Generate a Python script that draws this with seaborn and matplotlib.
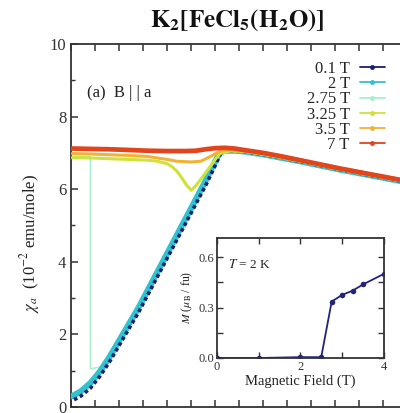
import matplotlib
matplotlib.use("Agg")
import matplotlib.pyplot as plt
from matplotlib.lines import Line2D
from matplotlib.ticker import MultipleLocator, NullFormatter, FixedLocator, FixedFormatter
import pandas as pd
import seaborn as sns

sns.set_theme(style="ticks")
plt.rcParams["font.family"] = ["Liberation Serif", "DejaVu Serif"]
plt.rcParams["mathtext.fontset"] = "stix"

# ---- susceptibility vs temperature, B || a ----
fields = ["0.1 T", "2 T", "2.75 T", "3.25 T", "3.5 T", "7 T"]
colors = ["#1c1c72", "#2fc3cf", "#a6efcf", "#cfe23a", "#f2b233", "#e2441e"]

T_01 = [0.3, 1, 2, 3, 4, 5, 6, 7, 8, 9, 10, 11, 12, 13, 14, 15, 15.5, 16, 17, 18,
        20, 22, 24, 26, 28, 30, 32, 34, 36]
chi_01 = [0.2, 0.3, 0.52, 0.85, 1.25, 1.7, 2.15, 2.6, 3.1, 3.6, 4.1, 4.6, 5.1, 5.6,
          6.1, 6.65, 6.95, 7.05, 7.06, 7.04, 6.96, 6.86, 6.76, 6.65, 6.54, 6.44,
          6.34, 6.24, 6.14]

T_2 = [0.1, 1, 2, 3, 4, 5, 6, 7, 8, 9, 10, 11, 12, 13, 14, 15, 15.5, 16, 17, 18,
       20, 22, 24, 26, 28, 30, 32, 34, 36]
chi_2 = [0.3, 0.43, 0.66, 0.98, 1.38, 1.83, 2.28, 2.73, 3.23, 3.73, 4.23, 4.73,
         5.23, 5.73, 6.23, 6.77, 7.0, 7.06, 7.06, 7.04, 6.96, 6.86, 6.76, 6.65,
         6.54, 6.44, 6.34, 6.24, 6.14]

T_275 = [0.1, 1, 2.0, 2.0, 3, 4, 6, 8, 10, 12, 14, 15, 15.5, 16, 18, 20, 24, 28,
         32, 36]
chi_275 = [6.9, 6.9, 6.9, 1.05, 1.1, 1.45, 2.3, 3.25, 4.25, 5.25, 6.25, 6.8, 7.0,
           7.05, 7.04, 6.96, 6.76, 6.54, 6.34, 6.14]

T_325 = [0.1, 2, 4, 6, 8, 9, 10, 10.5, 11, 11.5, 12, 12.5, 13, 14, 15, 15.5, 16.5,
         18, 20, 24, 28, 32, 36]
chi_325 = [6.87, 6.86, 6.84, 6.82, 6.8, 6.77, 6.7, 6.62, 6.5, 6.32, 6.12, 5.97,
           6.1, 6.45, 6.82, 6.98, 7.05, 7.04, 6.96, 6.76, 6.54, 6.34, 6.14]

T_35 = [0.1, 2, 4, 6, 8, 10, 11, 12.5, 13.5, 14.5, 15.5, 16.5, 18, 20, 24, 28, 32, 36]
chi_35 = [6.98, 6.97, 6.95, 6.93, 6.9, 6.82, 6.77, 6.75, 6.77, 6.9, 7.05, 7.08,
          7.05, 6.97, 6.77, 6.55, 6.35, 6.15]

T_7 = [0.1, 2, 4, 6, 8, 10, 12, 13, 14, 15, 16, 17, 18, 20, 22, 24, 26, 28, 30, 32,
       34, 36]
chi_7 = [7.12, 7.11, 7.1, 7.08, 7.06, 7.05, 7.05, 7.06, 7.1, 7.13, 7.14, 7.12, 7.08,
         7.0, 6.9, 6.79, 6.68, 6.57, 6.47, 6.37, 6.27, 6.17]

# ---- inset: magnetisation vs field at 2 K ----
H_inset = [0.0, 1.0, 2.0, 2.5, 2.75, 3.0, 3.25, 3.5, 4.0]
M_inset = [0.0, 0.0, 0.005, 0.005, 0.335, 0.375, 0.40, 0.437, 0.50]

fig = plt.figure(figsize=(4.0, 4.13), dpi=100)
ax = fig.add_axes([0.178, 0.0145, 0.864, 0.879])

series = [
    (T_275, chi_275, colors[2], dict(lw=1.1, zorder=2)),
    (T_2, chi_2, colors[1], dict(lw=4.4, zorder=3)),
    (T_01, chi_01, colors[0], dict(lw=2.6, zorder=4, linestyle=(0, (1.0, 0.8)))),
    (T_325, chi_325, colors[3], dict(lw=2.2, zorder=5)),
    (T_35, chi_35, colors[4], dict(lw=2.2, zorder=6)),
    (T_7, chi_7, colors[5], dict(lw=3.4, zorder=7)),
]
for T, chi, c, kw in series:
    df = pd.DataFrame({"T": T, "chi": chi})
    sns.lineplot(data=df, x="T", y="chi", color=c, estimator=None, sort=False,
                 ax=ax, **kw)

ax.set_xlim(0, 36)
ax.set_ylim(0, 10)
ax.xaxis.set_major_locator(MultipleLocator(2.5))
ax.xaxis.set_major_formatter(NullFormatter())
ax.yaxis.set_major_locator(MultipleLocator(2))
ax.yaxis.set_minor_locator(MultipleLocator(1))
ax.tick_params(axis="both", which="both", direction="in", top=True, right=True,
               colors="#333333", labelsize=12)
ax.tick_params(axis="both", which="major", length=5, width=1.1)
ax.tick_params(axis="y", which="minor", length=3, width=1.0)
ax.set_xlabel("")
ax.set_ylabel("")
for s in ax.spines.values():
    s.set_color("#333333")
    s.set_linewidth(1.3)

ax.text(0.045, 0.865, "(a)  B | | a", transform=ax.transAxes, fontsize=12,
        color="#222222", va="center")

handles = [Line2D([], [], color=c, lw=1.3, marker="o", ms=2.5) for c in colors]
leg = fig.legend(handles, fields, loc="upper right",
                 bbox_to_anchor=(0.962, 0.852), bbox_transform=fig.transFigure,
                 markerfirst=False, frameon=False, fontsize=12, handlelength=1.5,
                 handletextpad=0.6, labelspacing=-0.05, borderpad=0,
                 borderaxespad=0)

fig.text(0.075, 0.41, r"$\chi_a$  (10$^{-2}$ emu/mole)", rotation=90,
         fontsize=12, ha="center", va="center", color="#222222")
fig.text(0.592, 0.95, r"$\mathbf{K_2[FeCl_5(H_2O)]}$", fontsize=18,
         ha="center", va="center", color="#111111")

# inset
axi = fig.add_axes([0.5418, 0.1332, 0.418, 0.2913])
dfi = pd.DataFrame({"H": H_inset, "M": M_inset})
sns.lineplot(data=dfi, x="H", y="M", color="#23237e", lw=1.3, marker="o", ms=4,
             markeredgewidth=0, estimator=None, sort=False, ax=axi)
axi.set_xlim(0, 4)
axi.set_ylim(0, 0.715)
axi.xaxis.set_major_locator(FixedLocator([0, 1, 2, 3, 4]))
axi.xaxis.set_major_formatter(FixedFormatter(["0", "", "2", "", "4"]))
axi.yaxis.set_major_locator(FixedLocator([0.0, 0.15, 0.3, 0.45, 0.6]))
axi.yaxis.set_major_formatter(FixedFormatter(["0.0", "", "0.3", "", "0.6"]))
axi.tick_params(axis="both", direction="in", top=True, right=True, length=4,
                width=1.0, labelsize=9, colors="#333333", pad=2)
axi.set_xlabel("Magnetic Field (T)", fontsize=10.5, color="#222222", labelpad=1)
axi.set_ylabel(r"$M$ ($\mu_{\rm B}$ / fu)", fontsize=8.5, color="#222222",
               labelpad=2)
for s in axi.spines.values():
    s.set_color("#333333")
    s.set_linewidth(1.3)
axi.text(0.07, 0.78, r"$T$ = 2 K", transform=axi.transAxes, fontsize=9.5,
         color="#222222", va="center")

fig.savefig("out.png", dpi=100)
